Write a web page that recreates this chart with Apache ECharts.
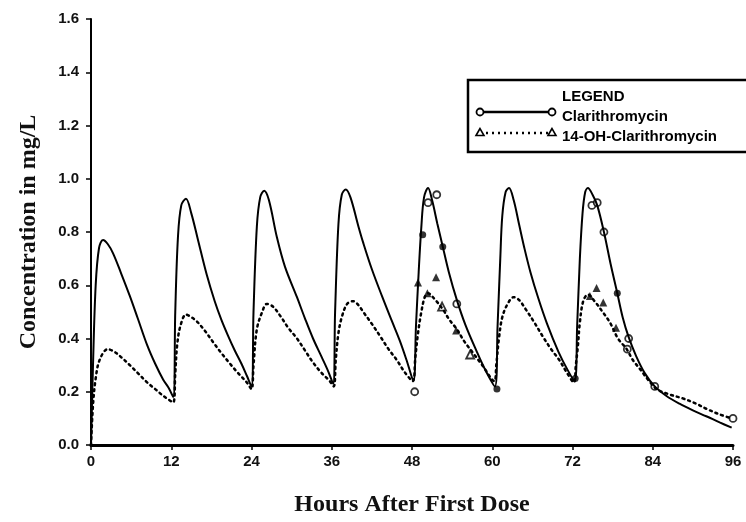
<!DOCTYPE html>
<html>
<head>
<meta charset="utf-8">
<script src="https://cdn.jsdelivr.net/npm/echarts@6/dist/echarts.min.js"></script>
<style>
    html, body { margin: 0; padding: 0; background: #fff; }
    #chart { width: 746px; height: 522px; }
</style>
</head>
<body>
<div id="chart"></div>
<script>
// 模拟曲线 (hours, mg/L)
var clarCurve = [
    [0, 0], [0.3, 0.3], [0.7, 0.6], [1.2, 0.74], [1.8, 0.77], [2.5, 0.755], [3.3, 0.72], [4.5, 0.645], [5.8, 0.56], [7, 0.475], [8.4, 0.375], [9.6, 0.305], [10.8, 0.245], [11.6, 0.215], [12.3, 0.18],
    [12.6, 0.5], [13, 0.78], [13.5, 0.9], [14.2, 0.925], [15, 0.87], [16, 0.77], [17.3, 0.64], [18.5, 0.54], [19.5, 0.47], [20.5, 0.41], [21.5, 0.355], [22.5, 0.305], [23.3, 0.26], [24, 0.22],
    [24.3, 0.5], [24.8, 0.82], [25.3, 0.93], [25.9, 0.955], [26.6, 0.92], [27.8, 0.78], [29, 0.67], [30.8, 0.555], [32, 0.475], [33.2, 0.4], [34.5, 0.33], [35.5, 0.275], [36.2, 0.23],
    [36.5, 0.5], [37, 0.83], [37.5, 0.94], [38.1, 0.96], [38.8, 0.93], [40, 0.82], [40.7, 0.76], [42, 0.66], [43.5, 0.56], [45, 0.465], [46.2, 0.39], [47.3, 0.31], [48.2, 0.24],
    [48.6, 0.45], [49, 0.65], [49.4, 0.82], [49.8, 0.93], [50.4, 0.965], [51, 0.92], [51.8, 0.83], [52.6, 0.745], [53.5, 0.65], [54.7, 0.545], [56, 0.45], [57.7, 0.35], [59, 0.28], [60.4, 0.22],
    [60.8, 0.45], [61.2, 0.7], [61.5, 0.86], [62, 0.95], [62.5, 0.965], [63.2, 0.92], [64, 0.83], [64.8, 0.74], [65.7, 0.65], [66.9, 0.55], [68.2, 0.455], [69.9, 0.35], [71.2, 0.285], [72.3, 0.24],
    [72.7, 0.45], [73.1, 0.7], [73.5, 0.87], [73.9, 0.95], [74.3, 0.965], [75, 0.94], [75.7, 0.9], [76.7, 0.8], [77.7, 0.68], [78.7, 0.57], [79.5, 0.48], [80.4, 0.405], [81.5, 0.335], [82.8, 0.27], [84.3, 0.22],
    [86, 0.185], [88, 0.155], [90, 0.13], [92, 0.108], [94, 0.085], [95.8, 0.065]
];
var ohCurve = [
    [0, 0], [0.3, 0.15], [0.7, 0.25], [1.3, 0.32], [2.5, 0.36], [3.5, 0.35], [4.5, 0.33], [5.8, 0.3], [7, 0.27], [8.4, 0.235], [9.6, 0.21], [10.8, 0.185], [12.3, 0.16],
    [12.6, 0.27], [12.9, 0.38], [13.4, 0.45], [14.2, 0.49], [15, 0.48], [15.8, 0.465], [17, 0.43], [18.3, 0.385], [19.5, 0.345], [20.8, 0.305], [22, 0.27], [23.3, 0.235], [24, 0.21],
    [24.3, 0.3], [24.8, 0.435], [25.6, 0.5], [26.3, 0.53], [27.2, 0.52], [28.3, 0.485], [29.5, 0.44], [30.8, 0.4], [32, 0.355], [33.2, 0.31], [34.5, 0.27], [35.7, 0.24], [36.3, 0.22],
    [36.6, 0.32], [37, 0.42], [37.5, 0.48], [38.3, 0.53], [39.2, 0.54], [40, 0.525], [40.7, 0.5], [42, 0.455], [43.2, 0.41], [44.5, 0.36], [45.7, 0.32], [47, 0.27], [48.1, 0.24],
    [48.5, 0.33], [48.9, 0.42], [49.4, 0.5], [49.9, 0.555], [50.4, 0.57], [51.3, 0.55], [52.6, 0.51], [53.6, 0.47], [54.7, 0.435], [55.8, 0.39], [57, 0.35], [58.5, 0.3], [60.3, 0.24],
    [60.6, 0.3], [61, 0.4], [61.5, 0.48], [62.3, 0.53], [63.2, 0.555], [64, 0.545], [65, 0.51], [66.3, 0.46], [67.5, 0.41], [68.8, 0.36], [70, 0.32], [71.2, 0.27], [72.2, 0.235],
    [72.5, 0.3], [72.8, 0.37], [73.1, 0.46], [73.6, 0.54], [74.3, 0.565], [75.3, 0.54], [76.5, 0.5], [77.6, 0.46], [78.8, 0.4], [80.1, 0.36], [81, 0.32], [82.1, 0.285], [83.3, 0.245], [84.6, 0.21],
    [86.5, 0.19], [88.5, 0.175], [90.5, 0.155], [92.1, 0.135], [94, 0.115], [95.8, 0.1]
];
// 实测点
var clarOpen = [[48.4, 0.2], [50.4, 0.91], [51.7, 0.94], [54.7, 0.53], [74.9, 0.9], [75.7, 0.91], [76.7, 0.8], [80.4, 0.4], [80.2, 0.36], [84.3, 0.22], [96, 0.1]];
var clarFilled = [[49.6, 0.79], [52.6, 0.745], [60.7, 0.21], [78.7, 0.57], [72.4, 0.25]];
var ohFilled = [[50.3, 0.57], [54.6, 0.43], [48.9, 0.61], [51.6, 0.63], [74.6, 0.56], [75.6, 0.59], [76.6, 0.535], [78.5, 0.44]];
var ohOpen = [[52.5, 0.52], [56.7, 0.34]];

var chart = echarts.init(document.getElementById('chart'));
var tickFont = { fontFamily: 'Liberation Sans', fontWeight: 'bold', fontSize: 15, color: '#111' };
var titleFont = { fontFamily: 'Liberation Serif', fontWeight: 'bold', fontSize: 24, color: '#111' };

var option = {
    backgroundColor: '#fff',
    animation: false,
    grid: { left: 91, right: 13, top: 19, bottom: 76 },
    xAxis: {
        type: 'value',
        min: 0,
        max: 96,
        interval: 12,
        name: 'Hours After First Dose',
        nameLocation: 'middle',
        nameGap: 48,
        nameTextStyle: titleFont,
        axisLine: { lineStyle: { color: '#000', width: 3 } },
        axisTick: { length: 5, lineStyle: { color: '#000', width: 1.5 } },
        axisLabel: Object.assign({ margin: 9 }, tickFont),
        splitLine: { show: false }
    },
    yAxis: {
        type: 'value',
        min: 0,
        max: 1.6,
        interval: 0.2,
        name: 'Concentration in mg/L',
        nameLocation: 'middle',
        nameGap: 50,
        nameTextStyle: titleFont,
        axisLine: { show: true, lineStyle: { color: '#000', width: 2 } },
        axisTick: { show: true, length: 5, lineStyle: { color: '#000', width: 1.5 } },
        axisLabel: Object.assign({ margin: 12, formatter: function(v) { return v.toFixed(1); } }, tickFont),
        splitLine: { show: false }
    },
    series: [{
        name: 'Clarithromycin',
        type: 'line',
        data: clarCurve,
        smooth: 0.35,
        symbol: 'none',
        lineStyle: { color: '#000', width: 2 }
    }, {
        name: '14-OH-Clarithromycin',
        type: 'line',
        data: ohCurve,
        smooth: 0.35,
        symbol: 'none',
        lineStyle: { color: '#000', width: 2.5, type: [2, 4], cap: 'round' }
    }, {
        type: 'scatter',
        data: clarOpen,
        symbol: 'circle',
        symbolSize: 7,
        itemStyle: { color: '#fff', borderColor: '#000', borderWidth: 1.8 }
    }, {
        type: 'scatter',
        data: clarFilled,
        symbol: 'circle',
        symbolSize: 7,
        itemStyle: { color: '#000' }
    }, {
        type: 'scatter',
        data: ohFilled,
        symbol: 'triangle',
        symbolSize: 8,
        itemStyle: { color: '#000' }
    }, {
        type: 'scatter',
        data: ohOpen,
        symbol: 'triangle',
        symbolSize: 8,
        itemStyle: { color: '#fff', borderColor: '#000', borderWidth: 1.8 }
    }],
    //图例框
    graphic: [{
        type: 'rect',
        shape: { x: 468, y: 80, width: 280, height: 72 },
        style: { fill: '#fff', stroke: '#000', lineWidth: 2.5 }
    }, {
        type: 'text',
        style: { x: 562, y: 97, text: 'LEGEND', fill: '#000', font: 'bold 15px "Liberation Sans"', verticalAlign: 'middle' }
    }, {
        type: 'line',
        shape: { x1: 480, y1: 112, x2: 552, y2: 112 },
        style: { stroke: '#000', lineWidth: 2.5 }
    }, {
        type: 'circle',
        shape: { cx: 480, cy: 112, r: 3.5 },
        style: { fill: '#fff', stroke: '#000', lineWidth: 1.8 }
    }, {
        type: 'circle',
        shape: { cx: 552, cy: 112, r: 3.5 },
        style: { fill: '#fff', stroke: '#000', lineWidth: 1.8 }
    }, {
        type: 'text',
        style: { x: 562, y: 117, text: 'Clarithromycin', fill: '#000', font: 'bold 15px "Liberation Sans"', verticalAlign: 'middle' }
    }, {
        type: 'line',
        shape: { x1: 480, y1: 133, x2: 552, y2: 133 },
        style: { stroke: '#000', lineWidth: 2.5, lineDash: [2, 4] }
    }, {
        type: 'polygon',
        shape: { points: [[480, 128.5], [476, 135.5], [484, 135.5]] },
        style: { fill: '#fff', stroke: '#000', lineWidth: 1.6 }
    }, {
        type: 'polygon',
        shape: { points: [[552, 128.5], [548, 135.5], [556, 135.5]] },
        style: { fill: '#fff', stroke: '#000', lineWidth: 1.6 }
    }, {
        type: 'text',
        style: { x: 562, y: 137, text: '14-OH-Clarithromycin', fill: '#000', font: 'bold 15px "Liberation Sans"', verticalAlign: 'middle' }
    }]
};
chart.setOption(option);
</script>
</body>
</html>
